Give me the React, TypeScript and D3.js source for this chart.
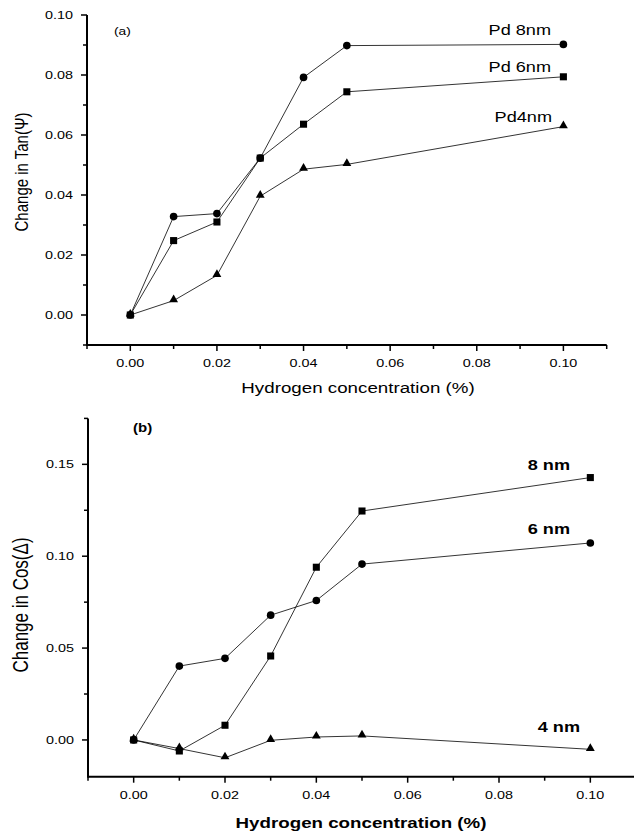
import React from "react";
import * as d3 from "d3";

// ---- Data ----
const xValues = [0, 0.01, 0.02, 0.03, 0.04, 0.05, 0.1];

// Panel (a): Change in Tan(Psi)
const tanPd8 = [0, 0.0328, 0.0338, 0.0523, 0.0792, 0.0898, 0.0902];
const tanPd6 = [0, 0.0248, 0.031, 0.0523, 0.0636, 0.0744, 0.0794];
const tanPd4 = [0, 0.0048, 0.0132, 0.0396, 0.0486, 0.0502, 0.0628];

// Panel (b): Change in Cos(Delta)
const cos8 = [0, -0.006, 0.008, 0.0457, 0.094, 0.1246, 0.1428];
const cos6 = [0, 0.0402, 0.0444, 0.0679, 0.0759, 0.0957, 0.1072];
const cos4 = [0, -0.0047, -0.0097, -0.0002, 0.0016, 0.0022, -0.0051];

const xTicks = [0, 0.02, 0.04, 0.06, 0.08, 0.1];
const xMinor = [-0.01, 0.01, 0.03, 0.05, 0.07, 0.09, 0.11];
const yTicksA = [0, 0.02, 0.04, 0.06, 0.08, 0.1];
const yMinorA = [-0.01, 0.01, 0.03, 0.05, 0.07, 0.09];
const yTicksB = [0, 0.05, 0.1, 0.15];
const yMinorB = [0.025, 0.075, 0.125, 0.175];

const FONT = "'Liberation Sans', Arial, Helvetica, sans-serif";
const SX = 1.25;

type TP = {
  x: number; y: number; size: number; anchor?: string; weight?: string;
  rotate?: boolean; dy?: string; children: React.ReactNode;
};
const T = ({ x, y, size, anchor = "start", weight = "normal", rotate, dy, children }: TP) => (
  <text
    transform={`translate(${x},${y}) scale(${SX},1)${rotate ? " rotate(-90)" : ""}`}
    textAnchor={anchor}
    fontSize={size}
    fontWeight={weight}
    fontFamily={FONT}
    dy={dy}
    fill="#000"
  >
    {children}
  </text>
);

const symCircle = d3.symbol(d3.symbolCircle, 46)()!;
const symSquare = d3.symbol(d3.symbolSquare, 50)()!;
const symTri = d3.symbol(d3.symbolTriangle, 34)()!;

type Series = { values: number[]; sym: string; triangle?: boolean };

function Panel({
  x, y, xt, xm, yt, ym, yFmt, series,
}: {
  x: d3.ScaleLinear<number, number>;
  y: d3.ScaleLinear<number, number>;
  xt: number[]; xm: number[]; yt: number[]; ym: number[];
  yFmt: (v: number) => string;
  series: Series[];
}) {
  const [x0, x1] = x.range();
  const [y0, y1] = y.range(); // y0 bottom, y1 top
  const line = d3.line<number>().x((_, i) => x(xValues[i])).y((d) => y(d));
  return (
    <g>
      {/* axes */}
      <line x1={x0} x2={x1} y1={y0} y2={y0} stroke="#000" strokeWidth={2} />
      <line x1={x0} x2={x0} y1={y0 + 1} y2={y1} stroke="#000" strokeWidth={2} />
      {xt.map((t) => (
        <g key={"xt" + t}>
          <line x1={x(t)} x2={x(t)} y1={y0} y2={y0 + 6} stroke="#000" strokeWidth={1.5} />
          <T x={x(t)} y={y0 + 18} size={11.5} anchor="middle" dy="0.35em">
            {d3.format(".2f")(t)}
          </T>
        </g>
      ))}
      {xm.map((t) => (
        <line key={"xm" + t} x1={x(t)} x2={x(t)} y1={y0} y2={y0 + 4} stroke="#000" strokeWidth={1.5} />
      ))}
      {yt.map((t) => (
        <g key={"yt" + t}>
          <line x1={x0 - 6} x2={x0} y1={y(t)} y2={y(t)} stroke="#000" strokeWidth={1.5} />
          <T x={x0 - 14} y={y(t)} size={11.5} anchor="end" dy="0.35em">
            {yFmt(t)}
          </T>
        </g>
      ))}
      {ym.map((t) => (
        <line key={"ym" + t} x1={x0 - 4} x2={x0} y1={y(t)} y2={y(t)} stroke="#000" strokeWidth={1.5} />
      ))}
      {series.map((s, si) => (
        <g key={"s" + si}>
          <path d={line(s.values)!} fill="none" stroke="#000" strokeWidth={0.8} />
          {s.values.map((v, i) => (
            <path
              key={i}
              d={s.sym}
              transform={`translate(${x(xValues[i])},${y(v) + (s.triangle ? -1 : 0)})`}
              fill="#000"
            />
          ))}
        </g>
      ))}
    </g>
  );
}

export default function App() {
  const xA = d3.scaleLinear().domain([-0.01, 0.11]).range([87, 606.7]);
  const yA = d3.scaleLinear().domain([-0.01, 0.1]).range([345, 15]);
  const xB = d3.scaleLinear().domain([-0.01, 0.11]).range([88, 636]);
  const yB = d3.scaleLinear().domain([-0.02, 0.175]).range([776.7, 418.4]);

  return (
    <svg
      width={634}
      height={836}
      style={{ position: "absolute", left: 0, top: 0, background: "#fff" }}
    >
      <rect width={634} height={836} fill="#fff" />
      <Panel
        x={xA} y={yA} xt={xTicks} xm={xMinor} yt={yTicksA} ym={yMinorA}
        yFmt={d3.format(".2f")}
        series={[
          { values: tanPd8, sym: symCircle },
          { values: tanPd6, sym: symSquare },
          { values: tanPd4, sym: symTri, triangle: true },
        ]}
      />
      <T x={114} y={35} size={11}>(a)</T>
      <T x={551} y={35} size={14.5} anchor="end">Pd 8nm</T>
      <T x={551} y={72} size={14.5} anchor="end">Pd 6nm</T>
      <T x={552} y={122} size={14.5} anchor="end">Pd4nm</T>
      <T x={358} y={393} size={15} anchor="middle">Hydrogen concentration (%)</T>
      <T x={28} y={172} size={15} anchor="middle" rotate>Change in Tan(Ψ)</T>

      <Panel
        x={xB} y={yB} xt={xTicks} xm={xMinor} yt={yTicksB} ym={yMinorB}
        yFmt={d3.format(".2f")}
        series={[
          { values: cos8, sym: symSquare },
          { values: cos6, sym: symCircle },
          { values: cos4, sym: symTri, triangle: true },
        ]}
      />
      <T x={133} y={432} size={12} weight="bold">(b)</T>
      <T x={570} y={470} size={14.5} anchor="end" weight="bold">8 nm</T>
      <T x={570} y={534} size={14.5} anchor="end" weight="bold">6 nm</T>
      <T x={580} y={732} size={14.5} anchor="end" weight="bold">4 nm</T>
      <T x={361} y={828} size={15} anchor="middle" weight="bold">Hydrogen concentration (%)</T>
      <T x={28} y={605} size={17} anchor="middle" rotate>Change in Cos(Δ)</T>
    </svg>
  );
}
